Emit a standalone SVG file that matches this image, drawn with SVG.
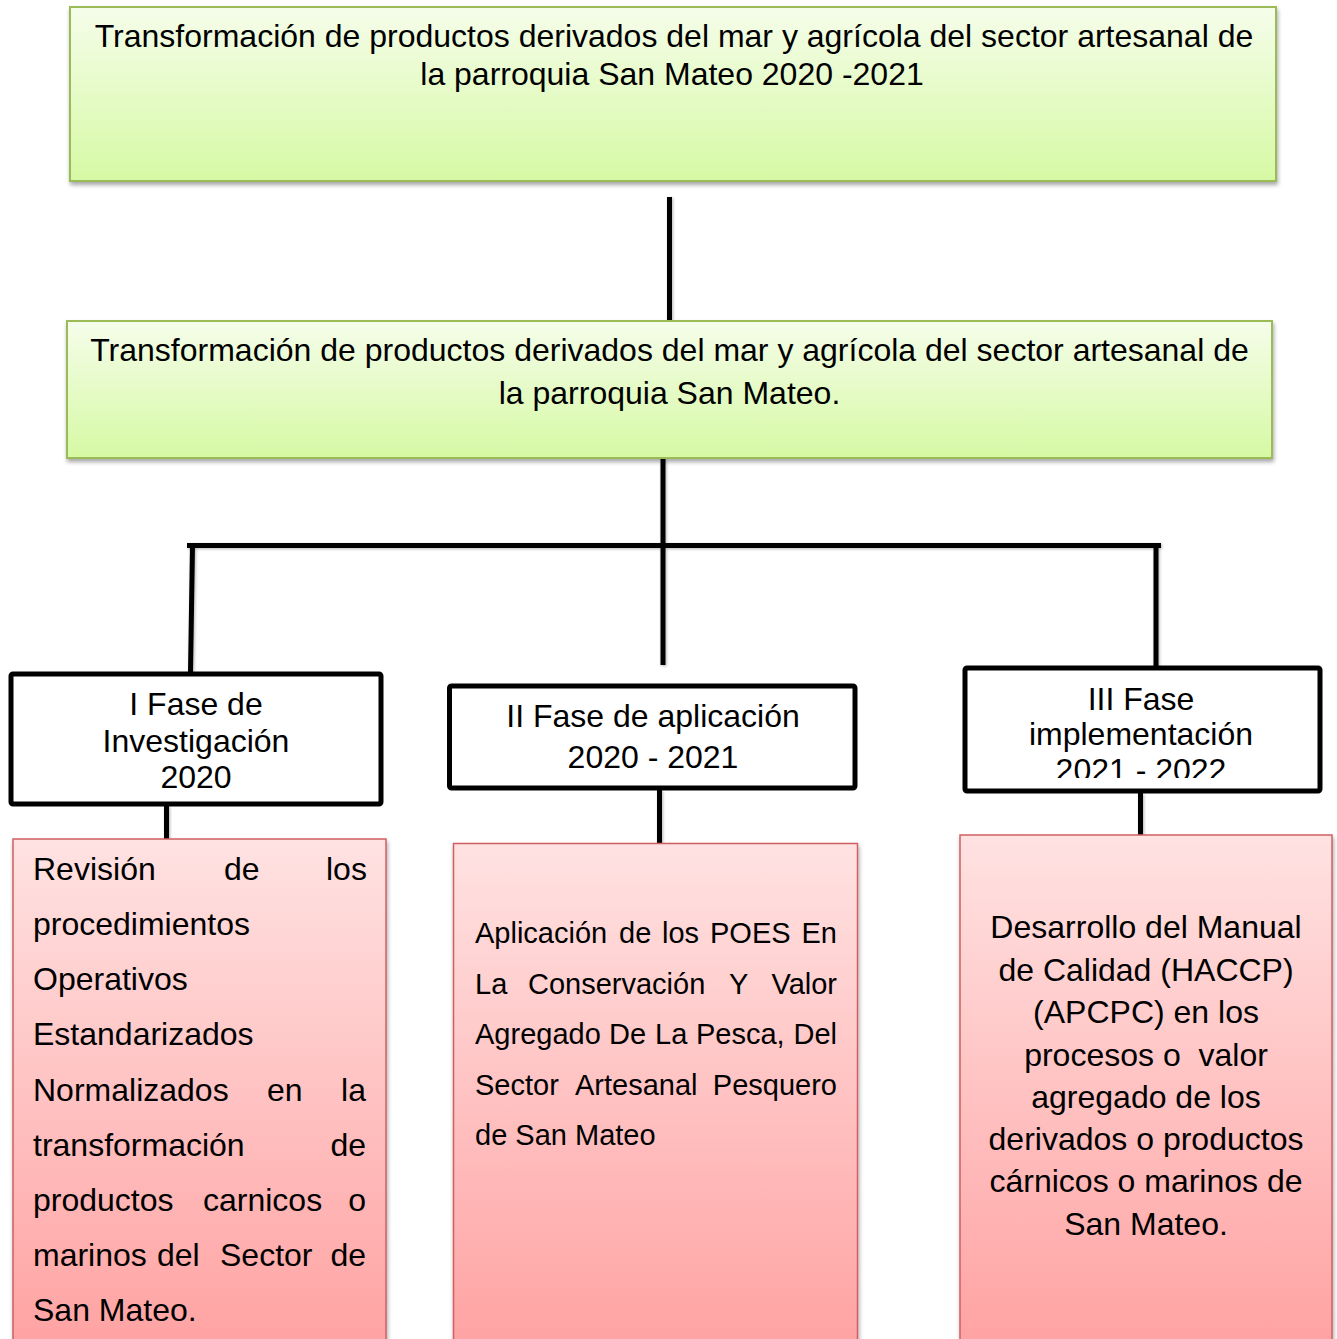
<svg xmlns="http://www.w3.org/2000/svg" width="1337" height="1339" viewBox="0 0 1337 1339">
<defs>
<style>
text{font-family:"Liberation Sans",Arial,sans-serif;fill:#000}
.g{stroke:#9bbb59;stroke-width:2;fill:url(#gg)}
.p{stroke:#000;stroke-width:5;fill:#fff}
.r{stroke:#cf5f62;stroke-width:1.5;fill:url(#rg)}
.c{stroke:#000;stroke-width:5;fill:none;stroke-linecap:butt}
.t32{font-size:32px}
.t29{font-size:29px}
.mid{text-anchor:middle}
.end{text-anchor:end}
</style>
<linearGradient id="gg" x1="0" y1="0" x2="0" y2="1">
<stop offset="0" stop-color="#f5fdea"/>
<stop offset="1" stop-color="#d6f9a4"/>
</linearGradient>
<linearGradient id="rg" x1="0" y1="0" x2="0" y2="1">
<stop offset="0" stop-color="#ffe2e2"/>
<stop offset="1" stop-color="#ffa2a2"/>
</linearGradient>
<filter id="sh" x="-5%" y="-10%" width="110%" height="125%">
<feGaussianBlur in="SourceAlpha" stdDeviation="2"/>
<feOffset dx="1" dy="3" result="b"/>
<feComponentTransfer><feFuncA type="linear" slope="0.35"/></feComponentTransfer>
<feMerge><feMergeNode/><feMergeNode in="SourceGraphic"/></feMerge>
</filter>
<filter id="ls" x="-50%" y="-5%" width="200%" height="110%">
<feGaussianBlur in="SourceAlpha" stdDeviation="1.5"/>
<feOffset dx="1" dy="1"/>
<feComponentTransfer><feFuncA type="linear" slope="0.3"/></feComponentTransfer>
<feMerge><feMergeNode/><feMergeNode in="SourceGraphic"/></feMerge>
</filter>
<clipPath id="clip3"><rect x="965" y="668" width="355" height="110"/></clipPath>
</defs>

<g id="connectors" filter="url(#ls)">
<line class="c" x1="669.5" y1="197" x2="669.5" y2="320"/>
<line class="c" x1="663" y1="459" x2="663" y2="665"/>
<line class="c" x1="187" y1="545.5" x2="1161" y2="545.5"/>
<line class="c" x1="192.5" y1="545" x2="190.5" y2="672"/>
<line class="c" x1="1156" y1="545" x2="1156" y2="666"/>
<line class="c" x1="166.5" y1="806" x2="166.5" y2="839"/>
<line class="c" x1="659.5" y1="790" x2="659.5" y2="843"/>
<line class="c" x1="1140.5" y1="793" x2="1140.5" y2="835"/>
</g>

<g id="node-top">
<rect class="g" x="70" y="7" width="1206" height="174" filter="url(#sh)"/>
<text class="t32 mid" x="674" y="47">Transformación de productos derivados del mar y agrícola del sector artesanal de</text>
<text class="t32 mid" x="672" y="85">la parroquia San Mateo 2020 -2021</text>
</g>

<g id="node-second">
<rect class="g" x="67" y="321" width="1205" height="137" filter="url(#sh)"/>
<text class="t32 mid" x="669.5" y="361">Transformación de productos derivados del mar y agrícola del sector artesanal de</text>
<text class="t32 mid" x="669.5" y="404">la parroquia San Mateo.</text>
</g>

<g id="node-fase1">
<rect class="p" x="11" y="674" width="370" height="130" rx="2"/>
<text class="t32 mid" x="196" y="715">I Fase de</text>
<text class="t32 mid" x="196" y="752">Investigación</text>
<text class="t32 mid" x="196" y="788">2020</text>
</g>

<g id="node-fase2">
<rect class="p" x="449.5" y="686" width="405.5" height="102" rx="2"/>
<text class="t32 mid" x="653" y="727">II Fase de aplicación</text>
<text class="t32 mid" x="653" y="768">2020 - 2021</text>
</g>

<g id="node-fase3">
<rect class="p" x="965" y="668" width="355" height="123" rx="2"/>
<text class="t32 mid" x="1141" y="710">III Fase</text>
<text class="t32 mid" x="1141" y="745">implementación</text>
<text class="t32 mid" x="1141" y="781" clip-path="url(#clip3)">2021 - 2022</text>
</g>

<g id="node-detail1">
<rect class="r" x="13" y="839" width="373" height="510" filter="url(#sh)"/>
<text class="t32"><tspan x="33" y="880">Revisión</tspan><tspan x="224" y="880">de</tspan><tspan x="326" y="880">los</tspan></text>
<text class="t32" x="33" y="935">procedimientos</text>
<text class="t32" x="33" y="990">Operativos</text>
<text class="t32" x="33" y="1045">Estandarizados</text>
<text class="t32"><tspan x="33" y="1101">Normalizados</tspan><tspan x="267" y="1101">en</tspan></text>
<text class="t32 end" x="366" y="1101">la</text>
<text class="t32" x="33" y="1156">transformación</text>
<text class="t32 end" x="366" y="1156">de</text>
<text class="t32"><tspan x="33" y="1211">productos</tspan><tspan x="203" y="1211">carnicos</tspan></text>
<text class="t32 end" x="366" y="1211">o</text>
<text class="t32"><tspan x="33" y="1266">marinos</tspan><tspan x="157" y="1266">del</tspan><tspan x="220" y="1266">Sector</tspan></text>
<text class="t32 end" x="366" y="1266">de</text>
<text class="t32" x="33" y="1321">San Mateo.</text>
</g>

<g id="node-detail2">
<rect class="r" x="453.5" y="843.5" width="404" height="506" filter="url(#sh)"/>
<text class="t29"><tspan x="475" y="943">Aplicación</tspan><tspan x="619" y="943">de</tspan><tspan x="662" y="943">los</tspan><tspan x="710" y="943">POES</tspan></text>
<text class="t29 end" x="837" y="943">En</text>
<text class="t29"><tspan x="475" y="993.5">La</tspan><tspan x="528" y="993.5">Conservación</tspan><tspan x="729" y="993.5">Y</tspan></text>
<text class="t29 end" x="837" y="993.5">Valor</text>
<text class="t29"><tspan x="475" y="1044">Agregado</tspan><tspan x="609" y="1044">De</tspan><tspan x="655" y="1044">La</tspan><tspan x="696" y="1044">Pesca,</tspan></text>
<text class="t29 end" x="837" y="1044">Del</text>
<text class="t29"><tspan x="475" y="1094.5">Sector</tspan><tspan x="575" y="1094.5">Artesanal</tspan></text>
<text class="t29 end" x="837" y="1094.5">Pesquero</text>
<text class="t29" x="475" y="1145">de San Mateo</text>
</g>

<g id="node-detail3">
<rect class="r" x="960" y="835" width="372" height="514" filter="url(#sh)"/>
<text class="t32 mid" x="1146" y="938">Desarrollo del Manual</text>
<text class="t32 mid" x="1146" y="981">de Calidad (HACCP)</text>
<text class="t32 mid" x="1146" y="1023">(APCPC) en los</text>
<text class="t32 mid" x="1146" y="1066" xml:space="preserve">procesos o  valor</text>
<text class="t32 mid" x="1146" y="1108">agregado de los</text>
<text class="t32 mid" x="1146" y="1150">derivados o productos</text>
<text class="t32 mid" x="1146" y="1192">cárnicos o marinos de</text>
<text class="t32 mid" x="1146" y="1235">San Mateo.</text>
</g>
</svg>
